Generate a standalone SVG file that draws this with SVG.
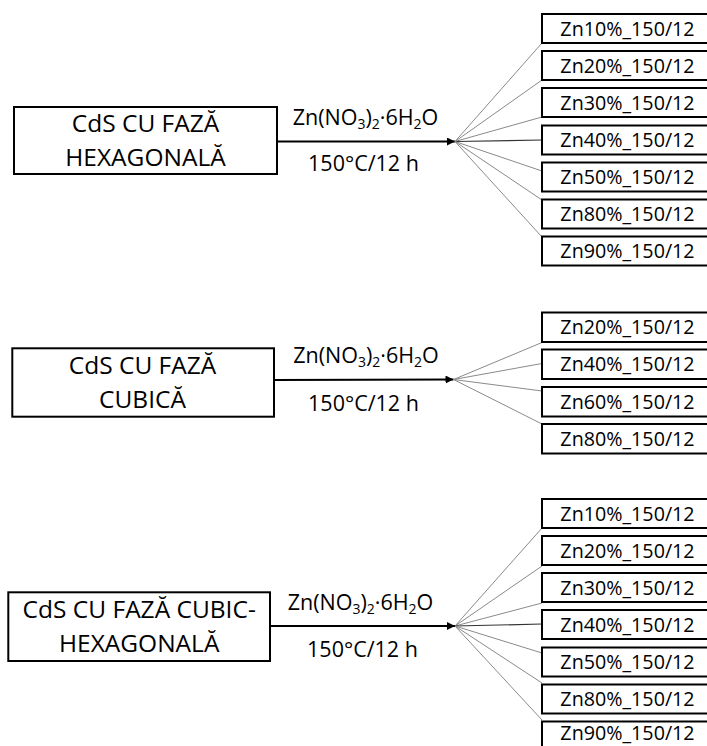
<svg xmlns="http://www.w3.org/2000/svg" width="707" height="746" viewBox="0 0 707 746">
<defs>
<style>
.src{fill:#fff;stroke:#000;stroke-width:2}
.tgt{fill:#fff;stroke:#000;stroke-width:2}
.st{font-family:"Open Sans","Liberation Sans",sans-serif;font-size:24.5px;fill:#000;text-anchor:middle}
.tt{font-family:"Open Sans","Liberation Sans",sans-serif;font-size:19.7px;fill:#000;text-anchor:middle}
.lb{font-family:"Open Sans","Liberation Sans",sans-serif;font-size:21.5px;fill:#000;text-anchor:middle}
.sub{font-size:14px}
.arrow{stroke:#000;stroke-width:1.8;fill:none;marker-end:url(#ah)}
.fan{stroke:#8a8a8a;stroke-width:1;fill:none}
.mid{stroke:#333;stroke-width:1.2;fill:none}
</style>
<marker id="ah" markerUnits="userSpaceOnUse" markerWidth="10" markerHeight="10" refX="8" refY="4" orient="auto">
<path d="M0,0 L8,4 L0,8 Z" fill="#000"/>
</marker>
</defs>
<rect width="707" height="746" fill="#fff"/>

<g id="connectors">
<line class="arrow" x1="277" y1="141.5" x2="455" y2="141.5"/>
<line class="fan" x1="455" y1="141.5" x2="542" y2="43"/>
<line class="fan" x1="455" y1="141.5" x2="542" y2="80"/>
<line class="fan" x1="455" y1="141.5" x2="542" y2="117"/>
<line class="mid" x1="455" y1="141.5" x2="542" y2="140"/>
<line class="fan" x1="455" y1="141.5" x2="542" y2="171"/>
<line class="fan" x1="455" y1="141.5" x2="542" y2="200"/>
<line class="fan" x1="455" y1="141.5" x2="542" y2="237"/>

<line class="arrow" x1="274" y1="380" x2="453.5" y2="379.5"/>
<line class="fan" x1="453.5" y1="379.5" x2="542" y2="342.5"/>
<line class="fan" x1="453.5" y1="379.5" x2="542" y2="363.5"/>
<line class="fan" x1="453.5" y1="379.5" x2="542" y2="391"/>
<line class="fan" x1="453.5" y1="379.5" x2="542" y2="424"/>

<line class="arrow" x1="270" y1="626" x2="455" y2="626"/>
<line class="fan" x1="455" y1="626" x2="542" y2="528"/>
<line class="fan" x1="455" y1="626" x2="542" y2="566"/>
<line class="fan" x1="455" y1="626" x2="542" y2="603"/>
<line class="mid" x1="455" y1="626" x2="542" y2="624"/>
<line class="fan" x1="455" y1="626" x2="542" y2="653"/>
<line class="fan" x1="455" y1="626" x2="542" y2="683"/>
<line class="fan" x1="455" y1="626" x2="542" y2="720"/>
</g>

<g id="labels">
<text class="lb" x="365.5" y="125">Zn(NO<tspan class="sub" dy="4">3</tspan><tspan dy="-4">)</tspan><tspan class="sub" dy="4">2</tspan><tspan dy="-4">·6H</tspan><tspan class="sub" dy="4">2</tspan><tspan dy="-4">O</tspan></text>
<text class="lb" x="363.5" y="171">150°C/12 h</text>
<text class="lb" x="366" y="363">Zn(NO<tspan class="sub" dy="4">3</tspan><tspan dy="-4">)</tspan><tspan class="sub" dy="4">2</tspan><tspan dy="-4">·6H</tspan><tspan class="sub" dy="4">2</tspan><tspan dy="-4">O</tspan></text>
<text class="lb" x="363.5" y="410.5">150°C/12 h</text>
<text class="lb" x="360.5" y="609.5">Zn(NO<tspan class="sub" dy="4">3</tspan><tspan dy="-4">)</tspan><tspan class="sub" dy="4">2</tspan><tspan dy="-4">·6H</tspan><tspan class="sub" dy="4">2</tspan><tspan dy="-4">O</tspan></text>
<text class="lb" x="362.5" y="656.5">150°C/12 h</text>
</g>

<g id="src-hex">
<rect class="src" x="14" y="107" width="263" height="67"/>
<text class="st" x="145.5" y="132.3">CdS CU FAZĂ</text>
<text class="st" x="145.5" y="165.7">HEXAGONALĂ</text>
</g>
<g id="src-cub">
<rect class="src" x="12.3" y="348.3" width="261.7" height="68.4"/>
<text class="st" x="142.5" y="374">CdS CU FAZĂ</text>
<text class="st" x="142.5" y="408">CUBICĂ</text>
</g>
<g id="src-mix">
<rect class="src" x="8.3" y="592.3" width="261.7" height="68.7"/>
<text class="st" x="139.2" y="618.3">CdS CU FAZĂ CUBIC-</text>
<text class="st" x="139.2" y="652.3">HEXAGONALĂ</text>
</g>

<g id="h-zn10"><rect class="tgt" x="542" y="14" width="171" height="29"/><text class="tt" x="627.5" y="35.5">Zn10%_150/12</text></g>
<g id="h-zn20"><rect class="tgt" x="542" y="51" width="171" height="29"/><text class="tt" x="627.5" y="72.5">Zn20%_150/12</text></g>
<g id="h-zn30"><rect class="tgt" x="542" y="88" width="171" height="29"/><text class="tt" x="627.5" y="109.5">Zn30%_150/12</text></g>
<g id="h-zn40"><rect class="tgt" x="542" y="125.5" width="171" height="29"/><text class="tt" x="627.5" y="147">Zn40%_150/12</text></g>
<g id="h-zn50"><rect class="tgt" x="542" y="162.5" width="171" height="29"/><text class="tt" x="627.5" y="184">Zn50%_150/12</text></g>
<g id="h-zn80"><rect class="tgt" x="542" y="199.5" width="171" height="29"/><text class="tt" x="627.5" y="221">Zn80%_150/12</text></g>
<g id="h-zn90"><rect class="tgt" x="542" y="236.5" width="171" height="29"/><text class="tt" x="627.5" y="258">Zn90%_150/12</text></g>

<g id="c-zn20"><rect class="tgt" x="542" y="312.5" width="171" height="29.5"/><text class="tt" x="627.5" y="334.2">Zn20%_150/12</text></g>
<g id="c-zn40"><rect class="tgt" x="542" y="349.5" width="171" height="29.5"/><text class="tt" x="627.5" y="371.2">Zn40%_150/12</text></g>
<g id="c-zn60"><rect class="tgt" x="542" y="387" width="171" height="29.5"/><text class="tt" x="627.5" y="408.7">Zn60%_150/12</text></g>
<g id="c-zn80"><rect class="tgt" x="542" y="424" width="171" height="29.5"/><text class="tt" x="627.5" y="445.7">Zn80%_150/12</text></g>

<g id="m-zn10"><rect class="tgt" x="542" y="499" width="171" height="29"/><text class="tt" x="627.5" y="520.5">Zn10%_150/12</text></g>
<g id="m-zn20"><rect class="tgt" x="542" y="536" width="171" height="29"/><text class="tt" x="627.5" y="557.5">Zn20%_150/12</text></g>
<g id="m-zn30"><rect class="tgt" x="542" y="573" width="171" height="29"/><text class="tt" x="627.5" y="594.5">Zn30%_150/12</text></g>
<g id="m-zn40"><rect class="tgt" x="542" y="610" width="171" height="29"/><text class="tt" x="627.5" y="631.5">Zn40%_150/12</text></g>
<g id="m-zn50"><rect class="tgt" x="542" y="647.5" width="171" height="29"/><text class="tt" x="627.5" y="669">Zn50%_150/12</text></g>
<g id="m-zn80"><rect class="tgt" x="542" y="684.5" width="171" height="29"/><text class="tt" x="627.5" y="706">Zn80%_150/12</text></g>
<g id="m-zn90"><rect class="tgt" x="542" y="721.5" width="171" height="29"/><text class="tt" x="627.5" y="740">Zn90%_150/12</text></g>
</svg>
